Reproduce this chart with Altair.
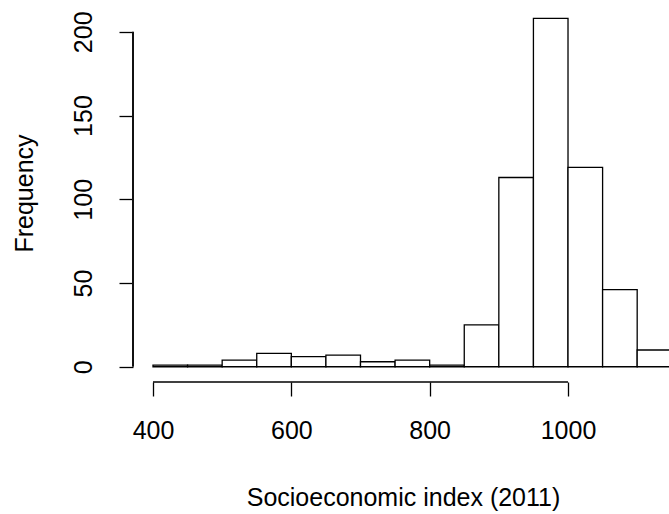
import altair as alt
import pandas as pd

# Histogram bins (lower / upper edges) and counts
bin_lo = [400, 450, 500, 550, 600, 650, 700, 750, 800, 850, 900, 950, 1000, 1050, 1100]
bin_hi = [450, 500, 550, 600, 650, 700, 750, 800, 850, 900, 950, 1000, 1050, 1100, 1150]
counts = [1, 1, 4, 8, 6, 7, 3, 4, 1, 25, 113, 208, 119, 46, 10]

x_ticks = [400, 600, 800, 1000]
y_ticks = [0, 50, 100, 150, 200]

df = pd.DataFrame({"lo": bin_lo, "hi": bin_hi, "count": counts})
xaxis_df = pd.DataFrame({"lo": [x_ticks[0]], "hi": [x_ticks[-1]]})
yaxis_df = pd.DataFrame({"ylo": [y_ticks[0]], "yhi": [y_ticks[-1]]})

W, H = 536, 378
FONT = "Liberation Sans"
LW = 1.3

xscale = alt.Scale(domain=[371.1, 1146.0], nice=False, zero=False)
yscale = alt.Scale(domain=[-9.1, 216.6], nice=False, zero=False)

xaxis = alt.Axis(
    values=x_ticks, format="d", domain=False, grid=False, ticks=True,
    tickSize=14, tickColor="black", tickWidth=LW,
    labelFont=FONT, labelFontSize=25, labelColor="black",
    labelPadding=42, labelBaseline="alphabetic", labelFlush=False,
    labelAlign="center",
    title="Socioeconomic index (2011)", titleFont=FONT, titleFontSize=25,
    titleFontWeight="normal", titleColor="black",
    titleBaseline="alphabetic", titleAlign="center",
    titleX=270, titleY=123,
)
yaxis = alt.Axis(
    values=y_ticks, format="d", domain=False, grid=False, ticks=True,
    tickSize=14, tickColor="black", tickWidth=LW,
    labelFont=FONT, labelFontSize=25, labelColor="black",
    labelAngle=270, labelAlign="center", labelBaseline="alphabetic",
    labelPadding=28, labelFlush=False,
    title="Frequency", titleFont=FONT, titleFontSize=25,
    titleFontWeight="normal", titleColor="black",
    titleAngle=270, titleBaseline="alphabetic", titleAlign="center",
    titleX=-101, titleY=189,
)

yline = alt.Chart(yaxis_df).mark_rule(color="#111111", strokeWidth=2).encode(
    x=alt.value(0),
    y=alt.Y("ylo:Q", scale=yscale, axis=yaxis),
    y2="yhi:Q",
)

bars = alt.Chart(df).mark_bar(
    fill="white", stroke="black", strokeWidth=LW, clip=True
).encode(
    x=alt.X("lo:Q", scale=xscale, axis=xaxis),
    x2="hi:Q",
    y=alt.Y("count:Q", scale=yscale, axis=yaxis),
    y2=alt.datum(0),
)

xline = alt.Chart(xaxis_df).mark_rule(color="black", strokeWidth=LW).encode(
    x=alt.X("lo:Q", scale=xscale, axis=xaxis),
    x2="hi:Q",
    y=alt.value(H),
)

chart = alt.layer(yline, bars, xline).properties(
    width=W, height=H,
    autosize="none",
    padding={"left": 133, "top": 4, "right": 0, "bottom": 132},
    background="white",
).configure_view(stroke=None)

chart.save("out.html", embed_options={"renderer": "svg", "actions": False})
